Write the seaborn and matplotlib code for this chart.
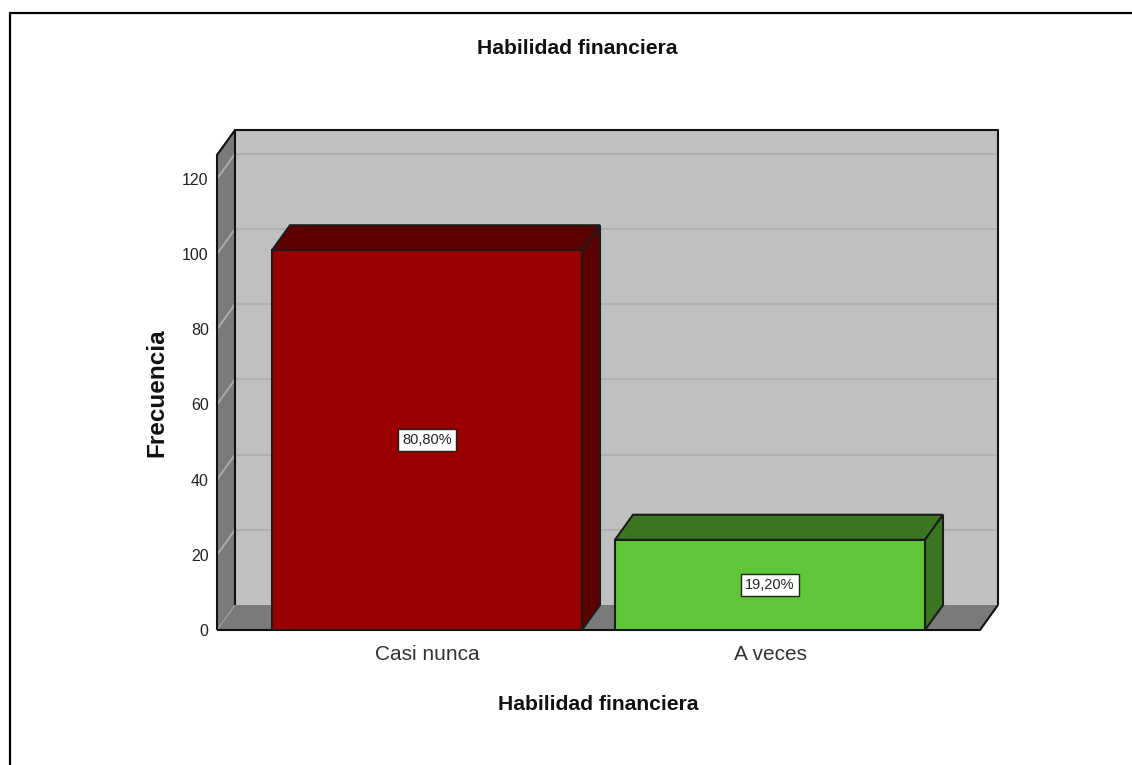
import matplotlib
matplotlib.use("Agg")
import matplotlib.pyplot as plt
from matplotlib.patches import Polygon
import pandas as pd
import seaborn as sns

categorias = ["Casi nunca", "A veces"]
frecuencias = [101, 24]
porcentajes = ["80,80%", "19,20%"]
ticks_y = [0, 20, 40, 60, 80, 100, 120]
colores = ["#990000", "#5fc637"]
colores_osc = ["#5c0000", "#3b7722"]

W, H = 1132, 765
# pixel box of the front plane
X0, X1, Y0, Y1 = 217, 980, 630, 155
DX, DY = 18, 25  # depth of the fake 3d
PX_CAT = 343
PX_UNIT = 3.76

sns.set_theme(style="white")
plt.rcParams["font.family"] = ["Liberation Sans", "DejaVu Sans"]

df = pd.DataFrame({"cat": categorias, "n": frecuencias})

fig = plt.figure(figsize=(W / 100, H / 100), dpi=100)
ax = fig.add_axes([X0 / W, 1 - Y0 / H, (X1 - X0) / W, (Y0 - Y1) / H])
sns.barplot(data=df, x="cat", y="n", hue="cat", palette=colores, legend=False,
            width=310 / PX_CAT, saturation=1, edgecolor="#1c1c1c", linewidth=1.5,
            ax=ax, zorder=5)

xmin = (X0 - 427) / PX_CAT
xmax = xmin + (X1 - X0) / PX_CAT
ymax = (Y0 - Y1) / PX_UNIT
ax.set_xlim(xmin, xmax)
ax.set_ylim(0, ymax)
sns.despine(ax=ax, left=True, bottom=True, top=True, right=True)
ax.patch.set_alpha(0)

dx = DX / PX_CAT
dy = DY / PX_UNIT


def poly(pts, color, z, lw=1.5, edge="#1c1c1c"):
    ax.add_patch(Polygon(pts, closed=True, facecolor=color, edgecolor=edge,
                         linewidth=lw, zorder=z, clip_on=False))


def linea(xs, ys, color="#111111", lw=1.5, z=3):
    ax.plot(xs, ys, color=color, lw=lw, zorder=z, clip_on=False, solid_capstyle="butt")


# back wall, side wall, floor
poly([(xmin + dx, dy), (xmax + dx, dy), (xmax + dx, ymax + dy), (xmin + dx, ymax + dy)], "#c0c0c0", 1, edge="none")
poly([(xmin, 0), (xmin + dx, dy), (xmin + dx, ymax + dy), (xmin, ymax)], "#7a7a7a", 2, edge="none")
poly([(xmin, 0), (xmax, 0), (xmax + dx, dy), (xmin + dx, dy)], "#7a7a7a", 2, edge="none")

# gridlines on the walls
for t in ticks_y[1:]:
    linea([xmin + dx, xmax + dx], [t + dy, t + dy], color="#b0b0b0", z=1.5)
    linea([xmin, xmin + dx], [t, t + dy], color="#a8a8a8", lw=1.5, z=2.5)
linea([xmin, xmin + dx], [0, dy], color="#a0a0a0", lw=0.8, z=2.5)

# wall outlines, the back bottom edge has none
linea([xmin, xmin, xmin + dx, xmax + dx, xmax + dx], [0, ymax, ymax + dy, ymax + dy, dy])
linea([xmin + dx, xmin + dx], [dy, ymax + dy])
linea([xmin, xmax, xmax + dx], [0, 0, dy])

# bar depth, taken from the seaborn patches
for bar, c in zip(ax.patches[:2], colores_osc):
    x0, w, h = bar.get_x(), bar.get_width(), bar.get_height()
    x1 = x0 + w
    poly([(x0, h), (x1, h), (x1 + dx, h + dy), (x0 + dx, h + dy)], c, 4)
    poly([(x1, 0), (x1 + dx, dy), (x1 + dx, h + dy), (x1, h)], c, 4)

for i, (n, p) in enumerate(zip(frecuencias, porcentajes)):
    ax.text(i, n / 2, p, ha="center", va="center", fontsize=10.5, color="#222222", zorder=6,
            bbox=dict(boxstyle="square,pad=0.3", facecolor="white", edgecolor="#222222", linewidth=1))

ax.set_yticks(ticks_y)
ax.set_xlabel("")
ax.set_ylabel("")
ax.tick_params(axis="y", length=0, pad=6, labelsize=11.5, labelcolor="#222222")
ax.tick_params(axis="x", length=0, pad=11, labelsize=15, labelcolor="#333333")

fig.text(577 / W, 1 - 48.5 / H, "Habilidad financiera", ha="center", va="center", fontsize=15.2, fontweight="bold", color="#111111")
fig.text(598 / W, 1 - 704.5 / H, "Habilidad financiera", ha="center", va="center", fontsize=15.2, fontweight="bold", color="#111111")
fig.text(157 / W, 1 - 393 / H, "Frecuencia", rotation=90, ha="center", va="center", fontsize=17.5, fontweight="bold", color="#111111")

# outer frame of the exported picture: only top and left show
fig.add_artist(plt.Line2D([10 / W, 10 / W, 1], [0, 1 - 13 / H, 1 - 13 / H], transform=fig.transFigure,
                          color="black", linewidth=1.6))

fig.savefig("out.png", dpi=100)
